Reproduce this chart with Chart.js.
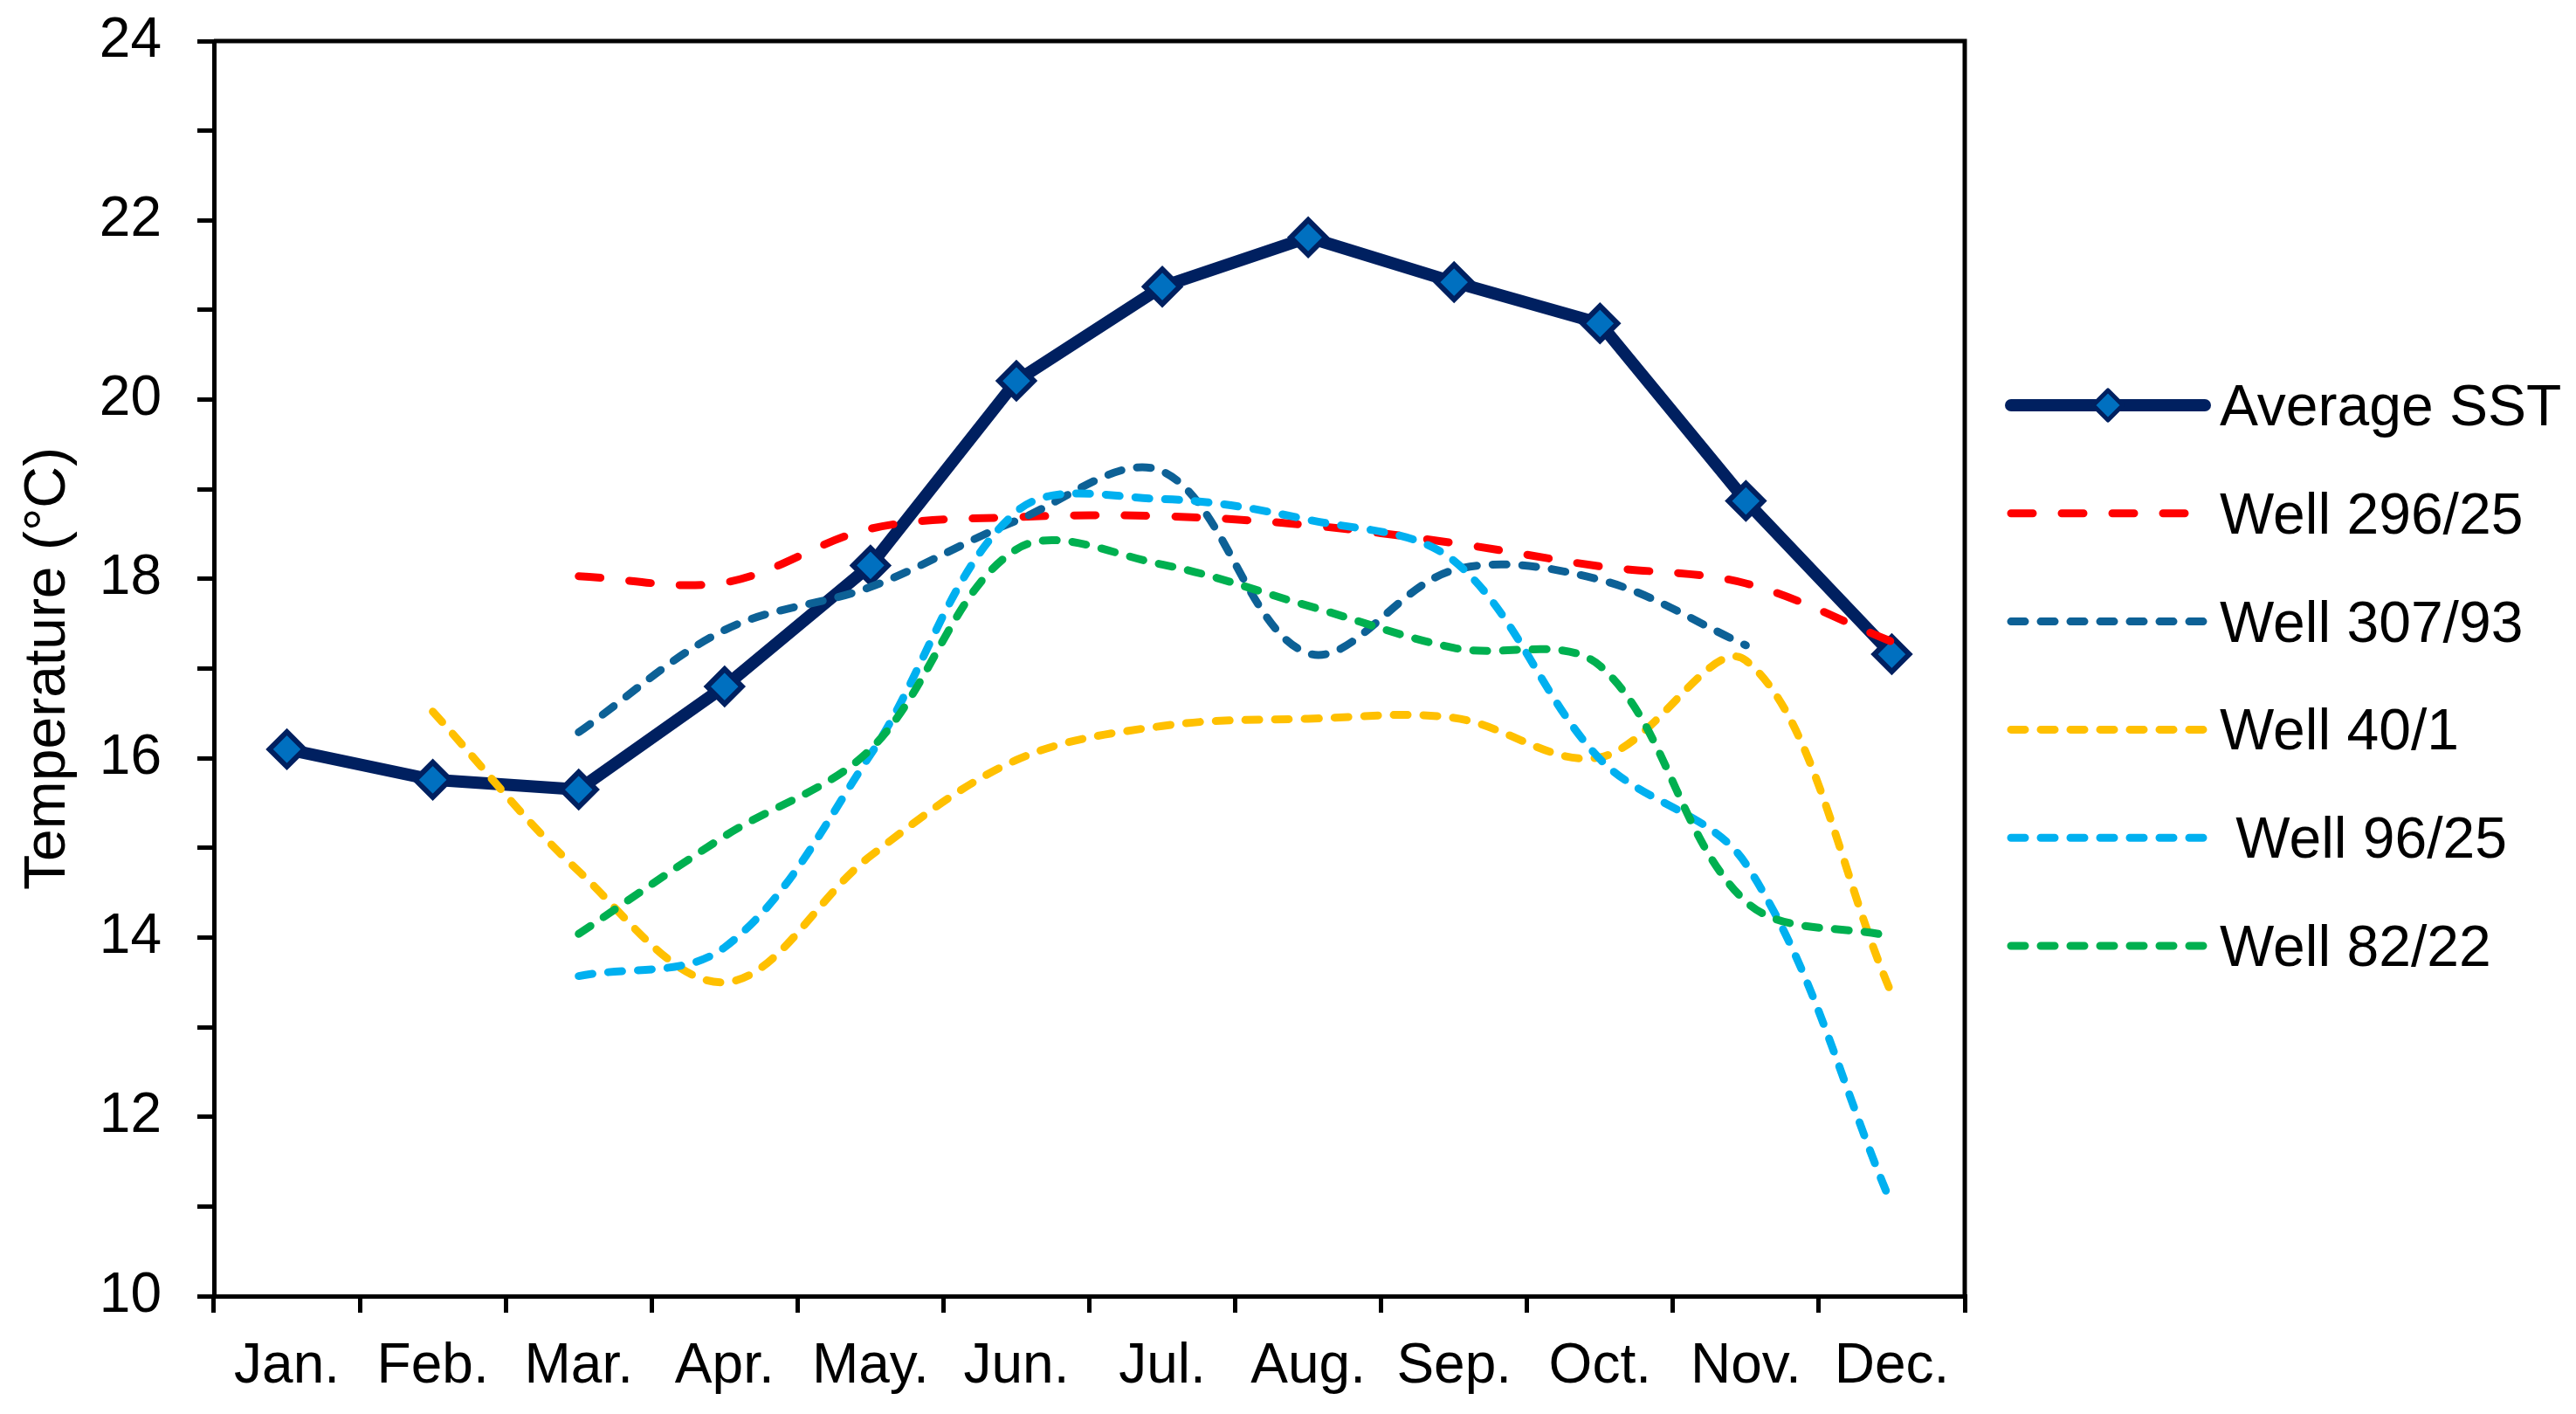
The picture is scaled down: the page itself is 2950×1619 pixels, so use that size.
<!DOCTYPE html>
<html>
<head>
<meta charset="utf-8">
<script src="https://cdn.jsdelivr.net/npm/chart.js@4.4.0/dist/chart.umd.min.js"></script>
<style>
html,body{margin:0;padding:0;background:#ffffff;overflow:hidden;}
canvas{display:block;}
</style>
</head>
<body>
<canvas id="c" width="2950" height="1619" style="width:2950px;height:1619px"></canvas>
<script>
// ---------- data ----------
const months = ['Jan.', 'Feb.', 'Mar.', 'Apr.', 'May.', 'Jun.', 'Jul.', 'Aug.', 'Sep.', 'Oct.', 'Nov.', 'Dec.'];
const averageSST = [16.10, 15.76, 15.65, 16.80, 18.15, 20.21, 21.26, 21.81, 21.31, 20.85, 18.87, 17.16];
const well296_25 = [null, null, 18.03, 17.96, 18.56, 18.69, 18.70, 18.60, 18.40, 18.14, 17.95, 17.30];
const well307_93 = [null, null, 16.29, 17.43, 17.91, 18.65, 19.20, 17.17, 18.10, 17.99, 17.26, null];
const well40_1   = [null, 16.52, 14.74, 13.50, 14.91, 15.98, 16.36, 16.44, 16.45, 16.01, 17.09, 13.37];
const well96_25  = [null, null, 13.57, 13.89, 16.04, 18.75, 18.89, 18.66, 18.20, 15.99, 14.82, 11.02];
const well82_22  = [null, null, 14.04, 15.13, 16.10, 18.33, 18.16, 17.70, 17.23, 17.03, 14.40, 14.01];
const seriesNames = ['Average SST', 'Well 296/25', 'Well 307/93', 'Well 40/1', ' Well 96/25', 'Well 82/22'];
const yMin = 10, yMax = 24, yStep = 1;
const yTitle = 'Temperature (\u00B0C)';

const FONT = "'Liberation Sans', Arial, sans-serif";
Chart.defaults.font.family = FONT;
Chart.defaults.color = '#000';

const longDash = [25, 33];
const shortDash = [16, 18];

function wellDataset(label, data, color, dash, order) {
  return {
    label: label, data: data,
    borderColor: color, backgroundColor: color,
    borderWidth: 9, borderDash: dash, borderCapStyle: 'round',
    pointRadius: 0, pointHoverRadius: 0,
    tension: 0.35, fill: false, spanGaps: false, order: order
  };
}

const datasets = [
  {
    label: seriesNames[0], data: averageSST,
    borderColor: '#002060', backgroundColor: '#0070C0',
    borderWidth: 14, borderJoinStyle: 'round', borderCapStyle: 'round',
    pointStyle: 'rectRot', pointRadius: 20, pointBorderWidth: 6,
    pointBackgroundColor: '#0070C0', pointBorderColor: '#002060',
    tension: 0, fill: false, order: 10
  },
  wellDataset(seriesNames[1], well296_25, '#FF0000', longDash, 5),
  wellDataset(seriesNames[2], well307_93, '#0D6196', shortDash, 4),
  wellDataset(seriesNames[3], well40_1, '#FFC000', shortDash, 3),
  wellDataset(seriesNames[4], well96_25, '#00B0F0', shortDash, 2),
  wellDataset(seriesNames[5], well82_22, '#00B050', shortDash, 1)
];

const framePlugin = {
  id: 'frame',
  afterDatasetsDraw(chart) {
    const {ctx, chartArea: a} = chart;
    ctx.save();
    ctx.strokeStyle = '#000';
    ctx.lineWidth = 5;
    ctx.beginPath();
    ctx.moveTo(a.left, a.top);
    ctx.lineTo(a.right, a.top);
    ctx.lineTo(a.right, a.bottom);
    ctx.stroke();
    ctx.restore();
  }
};

const legendPlugin = {
  id: 'sideLegend',
  afterDraw(chart) {
    const ctx = chart.ctx;
    const x1 = 2303, x2 = 2525, tx = 2542, y0 = 464, dy = 123.8;
    chart.data.datasets.forEach((ds, i) => {
      const y = y0 + i * dy;
      ctx.save();
      ctx.strokeStyle = ds.borderColor;
      ctx.lineWidth = ds.borderWidth;
      ctx.lineCap = 'round';
      ctx.setLineDash(ds.borderDash || []);
      ctx.beginPath();
      ctx.moveTo(x1, y);
      ctx.lineTo(x2, y);
      ctx.stroke();
      ctx.setLineDash([]);
      if (ds.pointRadius) {
        const cx = (x1 + x2) / 2, r = 17;
        ctx.beginPath();
        ctx.moveTo(cx, y - r);
        ctx.lineTo(cx + r, y);
        ctx.lineTo(cx, y + r);
        ctx.lineTo(cx - r, y);
        ctx.closePath();
        ctx.fillStyle = ds.pointBackgroundColor;
        ctx.fill();
        ctx.lineWidth = 5;
        ctx.lineJoin = 'round';
        ctx.strokeStyle = ds.pointBorderColor;
        ctx.stroke();
      }
      ctx.fillStyle = '#000';
      ctx.font = '66px ' + FONT;
      ctx.textBaseline = 'alphabetic';
      ctx.textAlign = 'left';
      ctx.fillText(ds.label, tx, y + 23);
      ctx.restore();
    });
  }
};

new Chart(document.getElementById('c'), {
  type: 'line',
  data: { labels: months, datasets: datasets },
  plugins: [framePlugin, legendPlugin],
  options: {
    responsive: false,
    animation: false,
    devicePixelRatio: 1,
    layout: { padding: { left: 0, top: 47, right: 700, bottom: 0 } },
    plugins: { legend: { display: false }, tooltip: { enabled: false } },
    scales: {
      x: {
        type: 'category',
        offset: true,
        grid: { offset: true, drawOnChartArea: false, color: '#000', tickColor: '#000', tickWidth: 5, lineWidth: 5, tickLength: 19 },
        border: { display: true, color: '#000', width: 5 },
        ticks: { font: { size: 64 }, color: '#000', padding: 24, autoSkip: false, maxRotation: 0 },
        afterFit(scale) {
          scale.height = 1619 - 1484;
          scale.paddingLeft = 0; scale.paddingRight = 0;
        }
      },
      y: {
        type: 'linear',
        min: yMin, max: yMax,
        grid: { drawOnChartArea: false, color: '#000', tickColor: '#000', tickWidth: 5, lineWidth: 5, tickLength: 19 },
        border: { display: true, color: '#000', width: 5 },
        ticks: {
          stepSize: yStep, maxTicksLimit: 30, autoSkip: false,
          font: { size: 64 }, color: '#000', padding: 41,
          callback: (v) => (v % 2 === 0 ? String(v) : '')
        },
        title: { display: true, text: yTitle, font: { size: 66 }, color: '#000', padding: { top: 16, bottom: 0 } },
        afterFit(scale) {
          scale.width = 245;
          scale.paddingTop = 0; scale.paddingBottom = 0;
        }
      }
    }
  }
});
</script>
</body>
</html>
